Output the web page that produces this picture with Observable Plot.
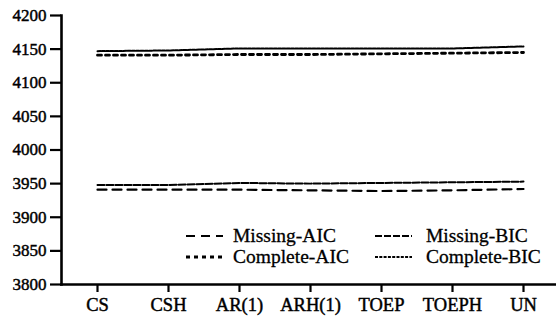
<!DOCTYPE html>
<html>
<head>
<meta charset="utf-8">
<script src="https://cdn.jsdelivr.net/npm/d3@7"></script>
<script src="https://cdn.jsdelivr.net/npm/@observablehq/plot@0.6"></script>
<style>
  html, body { margin: 0; padding: 0; background: #fff; }
  #wrap { position: relative; width: 556px; height: 322px; }
  #legend { position: absolute; left: 0; top: 0; pointer-events: none; }
  #wrap g[aria-label="x-axis tick label"] text,
  #wrap g[aria-label="y-axis tick label"] text { stroke: black; stroke-width: 0.45px; }
  #legend text { stroke: black; stroke-width: 0.3px; }
</style>
</head>
<body>
<div id="wrap"></div>
<script>
const categories = ["CS", "CSH", "AR(1)", "ARH(1)", "TOEP", "TOEPH", "UN"];
const missingAIC  = [3941, 3941, 3941, 3940, 3939, 3940, 3942];
const missingBIC  = [3948, 3948, 3951, 3950, 3951, 3952, 3953];
const completeAIC = [4141, 4141, 4142, 4142, 4143, 4144, 4145];
const completeBIC = [4147, 4148, 4151, 4151, 4151, 4151, 4154];
const yTicks = [3800, 3850, 3900, 3950, 4000, 4050, 4100, 4150, 4200];

const seriesNames = ["Missing-AIC", "Missing-BIC", "Complete-AIC", "Complete-BIC"];
const seriesValues = [missingAIC, missingBIC, completeAIC, completeBIC];
const styles = {
  "Missing-AIC":  {dash: "9,6", width: 2.2},
  "Missing-BIC":  {dash: "7,2", width: 2},
  "Complete-AIC": {dash: "4,4", width: 2.8},
  "Complete-BIC": {dash: "3,1.3", width: 2}
};

const data = seriesNames.flatMap((s, i) =>
  categories.map((c, j) => ({series: s, cat: c, value: seriesValues[i][j]})));

const lineMarks = seriesNames.map(s =>
  Plot.line(data.filter(d => d.series === s), {
    x: "cat", y: "value", stroke: "black",
    strokeWidth: styles[s].width, strokeDasharray: styles[s].dash
  }));

const FONT = "'Liberation Serif', 'Times New Roman', serif";

const chart = Plot.plot({
  width: 556,
  height: 322,
  marginLeft: 61,
  marginRight: 0,
  marginTop: 15,
  marginBottom: 38,
  style: {fontFamily: FONT, fontSize: "17px", color: "black", background: "white"},
  x: {type: "point", domain: categories, range: [97, 523], padding: 0, label: null},
  y: {domain: [3800, 4200], label: null},
  marks: [
    Plot.axisY({ticks: yTicks, tickSize: 11, tickPadding: 4, tickFormat: d => String(d),
      strokeWidth: 2.2, fontSize: 17, fill: "black"}),
    Plot.axisX({tickSize: 8, tickPadding: 5, strokeWidth: 2.2, fontSize: 18.5, fill: "black"}),
    Plot.frame({anchor: "left", strokeWidth: 2.6}),
    Plot.frame({anchor: "bottom", strokeWidth: 2.6}),
    ...lineMarks
  ]
});

const wrap = document.getElementById("wrap");
wrap.appendChild(chart);

// Legend overlay
const legendItems = [
  {name: "Missing-AIC",  x: 186, tx: 233, y: 236},
  {name: "Missing-BIC",  x: 375, tx: 426, y: 236},
  {name: "Complete-AIC", x: 186, tx: 233, y: 257},
  {name: "Complete-BIC", x: 375, tx: 426, y: 257}
];
const ns = "http://www.w3.org/2000/svg";
const lg = document.createElementNS(ns, "svg");
lg.setAttribute("id", "legend");
lg.setAttribute("width", 556);
lg.setAttribute("height", 322);
for (const it of legendItems) {
  const st = styles[it.name];
  const ln = document.createElementNS(ns, "line");
  ln.setAttribute("x1", it.x); ln.setAttribute("x2", it.x + 37);
  ln.setAttribute("y1", it.y); ln.setAttribute("y2", it.y);
  ln.setAttribute("stroke", "black");
  ln.setAttribute("stroke-width", st.width);
  ln.setAttribute("stroke-dasharray", st.dash);
  lg.appendChild(ln);
  const tx = document.createElementNS(ns, "text");
  tx.setAttribute("x", it.tx);
  tx.setAttribute("y", it.y);
  tx.setAttribute("dy", "0.32em");
  tx.setAttribute("font-size", "19.5");
  tx.setAttribute("font-family", FONT);
  tx.setAttribute("fill", "black");
  tx.textContent = it.name;
  lg.appendChild(tx);
}
wrap.appendChild(lg);
</script>
</body>
</html>
